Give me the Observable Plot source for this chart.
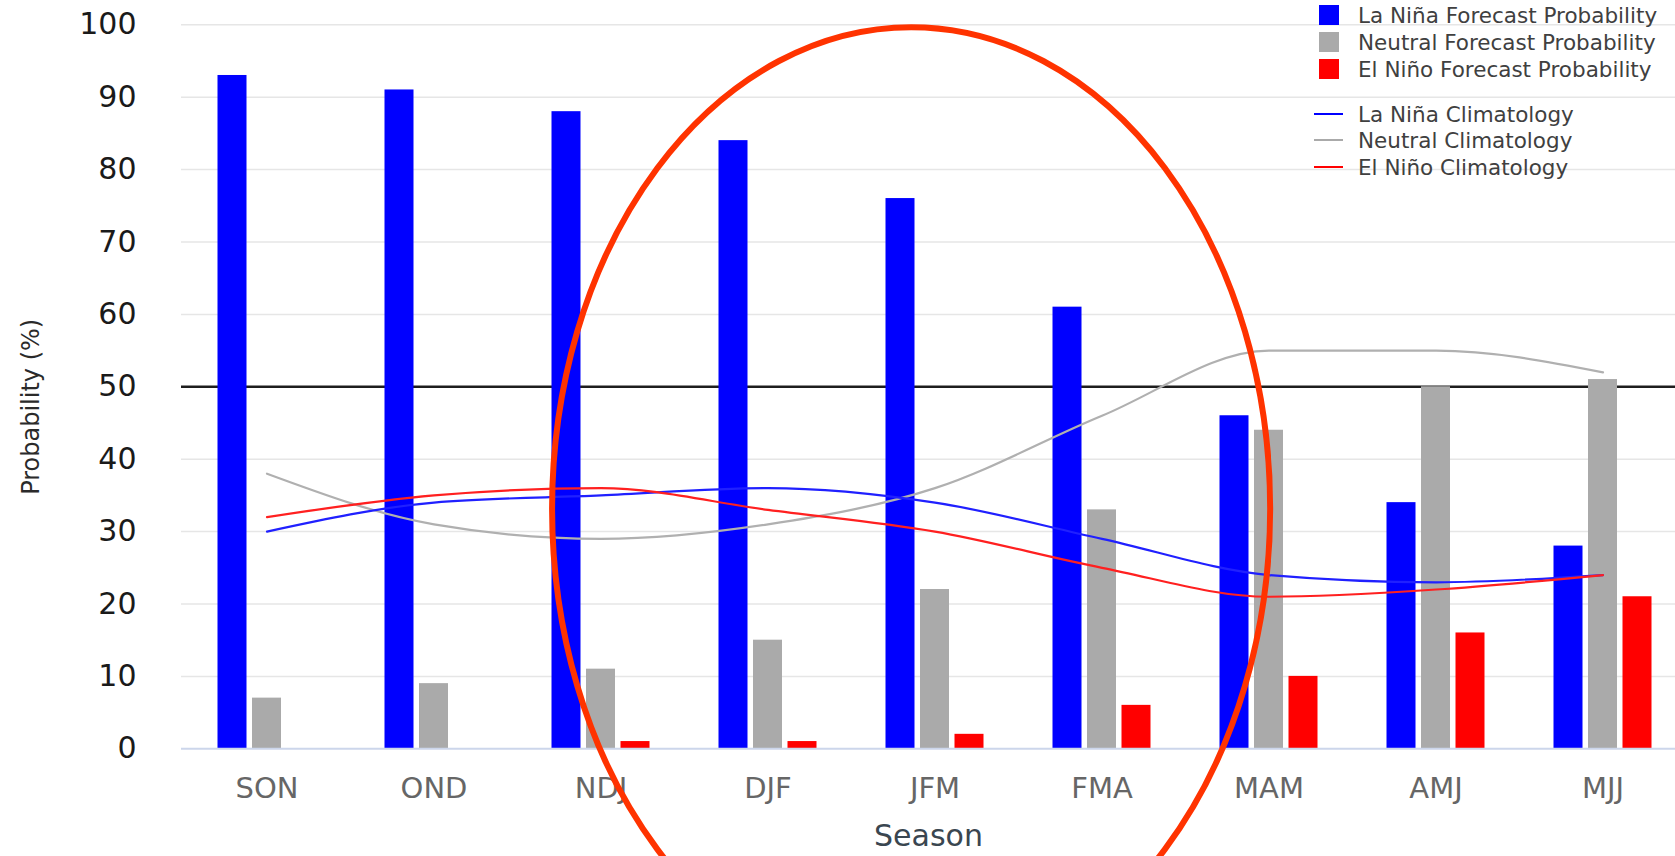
<!DOCTYPE html>
<html>
<head>
<meta charset="utf-8">
<script src="https://cdn.jsdelivr.net/npm/d3@7"></script>
<script src="https://cdn.jsdelivr.net/npm/@observablehq/plot@0.6"></script>
<style>
  html, body { margin: 0; padding: 0; background: #fff; }
  #wrap { position: relative; width: 1675px; height: 856px; overflow: hidden; font-family: "DejaVu Sans", sans-serif; }
  #legend { position: absolute; left: 0; top: 0; width: 1675px; height: 190px; pointer-events: none; }
  .row { position: absolute; left: 1314px; height: 26px; display: flex; align-items: center; }
  .sym { width: 29px; display: flex; justify-content: center; align-items: center; margin-right: 15px; }
  .sq { width: 20px; height: 20px; }
  .ln { width: 29px; height: 2.5px; }
  .lab { font-size: 21.5px; color: #404040; white-space: nowrap; }
</style>
</head>
<body>
<div id="wrap"><div id="chart"></div><div id="legend"></div></div>
<script>
// ---- data ----
const seasons = ["SON", "OND", "NDJ", "DJF", "JFM", "FMA", "MAM", "AMJ", "MJJ"];
const laNinaForecast  = [93, 91, 88, 84, 76, 61, 46, 34, 28];
const neutralForecast = [7, 9, 11, 15, 22, 33, 44, 50, 51];
const elNinoForecast  = [0, 0, 1, 1, 2, 6, 10, 16, 21];
const laNinaClim  = [30, 34, 35, 36, 34, 29, 24, 23, 24];
const neutralClim = [38, 31, 29, 31, 36, 46, 55, 55, 52];
const elNinoClim  = [32, 35, 36, 33, 30, 25, 21, 22, 24];
const yTicks = [0, 10, 20, 30, 40, 50, 60, 70, 80, 90, 100];
const threshold = [50];
const legendItems = [
  {name: "La Niña Forecast Probability", kind: "bar", color: "#0000ff"},
  {name: "Neutral Forecast Probability", kind: "bar", color: "#aaaaaa"},
  {name: "El Niño Forecast Probability", kind: "bar", color: "#ff0000"},
  {name: "", kind: "line", color: "#ffffff"},
  {name: "La Niña Climatology", kind: "line", color: "#0000ff"},
  {name: "Neutral Climatology", kind: "line", color: "#aaaaaa"},
  {name: "El Niño Climatology", kind: "line", color: "#ff0000"}
];
// annotation: hand-drawn ellipse (center between DJF and JFM)
const ellipseNote = {season: "DJF", frac: 0.86, yCenter: 33.1, yTop: 99.6, xSteps: 2.15};

// ---- tables ----
const toRows = (vals) => seasons.map((s, i) => ({season: s, value: vals[i]}));
const bLa = toRows(laNinaForecast), bNe = toRows(neutralForecast), bEl = toRows(elNinoForecast);
const cLa = toRows(laNinaClim), cNe = toRows(neutralClim), cEl = toRows(elNinoClim);

const W = 1675, H = 856;
const pIn = 1 - 29 / 167.5;
const off = 34.5;

const plot = Plot.plot({
  width: W, height: H,
  marginLeft: 181, marginRight: 0, marginTop: 24.3, marginBottom: 107.7,
  style: {fontFamily: "DejaVu Sans, sans-serif", background: "#fff", overflow: "visible"},
  x: {type: "band", domain: seasons, range: [181, 1688.5], paddingInner: pIn, paddingOuter: pIn / 2, axis: null},
  y: {domain: [0, 100], axis: null},
  marks: [
    Plot.ruleY(yTicks.filter(d => d > 0), {stroke: "#e6e6e6", strokeWidth: 1.5}),
    Plot.ruleY(threshold, {stroke: "#1e1e1e", strokeWidth: 2.5}),
    Plot.barY(bLa, {x: "season", y: "value", fill: "#0000ff", dx: -off}),
    Plot.barY(bNe, {x: "season", y: "value", fill: "#aaaaaa"}),
    Plot.barY(bEl, {x: "season", y: "value", fill: "#ff0000", dx: off}),
    Plot.ruleY([0], {stroke: "#ccd6eb", strokeWidth: 2}),
    Plot.line(cNe, {x: "season", y: "value", stroke: "#b0b0b0", strokeWidth: 2.2, curve: "monotone-x"}),
    Plot.line(cLa, {x: "season", y: "value", stroke: "#2020ff", strokeWidth: 2.2, curve: "monotone-x"}),
    Plot.line(cEl, {x: "season", y: "value", stroke: "#ff2020", strokeWidth: 2.2, curve: "monotone-x"}),
    Plot.axisX({tickSize: 0, tickPadding: 29, fontSize: 29, color: "#666", label: null}),
    Plot.axisY({ticks: yTicks, tickSize: 0, tickPadding: 45, fontSize: 30, color: "#1a1a1a", label: null}),
    Plot.text(["Season"], {text: d => d, frameAnchor: "bottom", textAnchor: "middle", lineAnchor: "middle", dy: 88, fontSize: 30, fill: "#3a4650"}),
    Plot.text(["Probability (%)"], {text: d => d, frameAnchor: "left", textAnchor: "middle", lineAnchor: "middle", rotate: -90, dx: -150, dy: 20, fontSize: 24, fill: "#2a2a2a"})
  ]
});
document.getElementById("chart").appendChild(plot);

// annotation ellipse positioned via the plot's scales
const xs = plot.scale("x"), ys = plot.scale("y");
const step = xs.step;
const i0 = seasons.indexOf(ellipseNote.season);
const cx = xs.apply(seasons[i0]) + xs.bandwidth / 2 + ellipseNote.frac * step;
const cy = ys.apply(ellipseNote.yCenter);
const ry = cy - ys.apply(ellipseNote.yTop);
const rx = ellipseNote.xSteps * step;
d3.select(plot).append("ellipse")
  .attr("cx", cx).attr("cy", cy).attr("rx", rx).attr("ry", ry)
  .attr("fill", "none").attr("stroke", "#ff3300").attr("stroke-width", 6);

// legend
const rowCenters = [15, 42, 69, 99, 114, 140, 167];
const leg = document.getElementById("legend");
legendItems.forEach((it, i) => {
  const row = document.createElement("div");
  row.className = "row";
  row.style.top = (rowCenters[i] - 13) + "px";
  const sym = document.createElement("div");
  sym.className = "sym";
  const mark = document.createElement("div");
  mark.className = it.kind === "bar" ? "sq" : "ln";
  mark.style.background = it.color;
  sym.appendChild(mark);
  row.appendChild(sym);
  if (it.name) {
    const lab = document.createElement("span");
    lab.className = "lab";
    lab.textContent = it.name;
    row.appendChild(lab);
  }
  leg.appendChild(row);
});
</script>
</body>
</html>
